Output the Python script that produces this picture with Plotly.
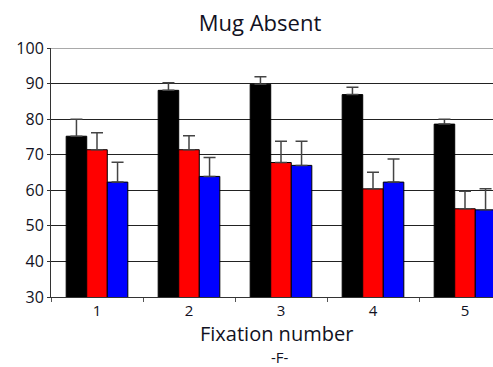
import plotly.graph_objects as go

# Fixation numbers on the x axis
fixations = ["1", "2", "3", "4", "5"]

# Mean percentage per fixation for each condition, with upper error
black_vals = [75.2, 88.1, 89.8, 86.9, 78.6]
black_err = [4.8, 2.1, 2.1, 2.1, 1.4]
red_vals = [71.4, 71.4, 67.8, 60.4, 54.8]
red_err = [4.8, 3.9, 6.0, 4.7, 4.9]
blue_vals = [62.3, 63.9, 67.0, 62.3, 54.5]
blue_err = [5.6, 5.3, 6.8, 6.5, 5.9]

y_ticks = [30, 40, 50, 60, 70, 80, 90, 100]

FONT = "Open Sans"
TEXT = "#111122"

fig = go.Figure()
for vals, errs, color in [
    (black_vals, black_err, "#000000"),
    (red_vals, red_err, "#ff0000"),
    (blue_vals, blue_err, "#0000ff"),
]:
    fig.add_trace(go.Bar(
        x=fixations, y=vals,
        marker=dict(color=color, line=dict(color="#000000", width=1)),
        error_y=dict(type="data", array=errs, symmetric=False,
                     arrayminus=[0] * len(errs),
                     color="#444444", thickness=1.5, width=6),
        showlegend=False,
    ))

W, H = 493, 367
L, R, T, B = 51, 0, 48, 70
plot_w = W - L - R
plot_h = H - T - B
cat_px = 92.0

fig.update_layout(
    width=W, height=H,
    margin=dict(l=L, r=R, t=T, b=B),
    paper_bgcolor="white", plot_bgcolor="white",
    barmode="group", bargap=0.33, bargroupgap=0,
    font=dict(family=FONT, color=TEXT),
    title=dict(text="Mug Absent", x=260 / W, xanchor="center",
               y=1 - 23 / H, yanchor="middle",
               font=dict(family=FONT, size=22, color=TEXT)),
)
fig.update_xaxes(
    type="category", range=[-0.5, -0.5 + plot_w / cat_px],
    showgrid=False, showline=True, linecolor="#333333", linewidth=1,
    ticks="outside", tickson="boundaries", ticklen=4, tickcolor="#555555",
    tickfont=dict(family=FONT, size=15, color=TEXT),
)
fig.update_yaxes(
    range=[30, 100], tickvals=y_ticks,
    showgrid=True, gridcolor="#222222", gridwidth=1, zeroline=False,
    showline=True, linecolor="#333333", linewidth=1,
    ticks="outside", ticklen=3, tickcolor="#333333",
    tickfont=dict(family=FONT, size=16, color=TEXT),
)
# Top frame line at 100
fig.add_shape(type="line", xref="paper", yref="y", x0=0, x1=1, y0=100, y1=100,
              line=dict(color="#555555", width=1))
fig.add_annotation(text="Fixation number", xref="paper", yref="paper",
                   x=(276 - L) / plot_w, y=-(333 - (H - B)) / plot_h,
                   xanchor="center", yanchor="middle", showarrow=False,
                   font=dict(family=FONT, size=20, color=TEXT))
fig.add_annotation(text="-F-", xref="paper", yref="paper",
                   x=(280 - L) / plot_w, y=-(357 - (H - B)) / plot_h,
                   xanchor="center", yanchor="middle", showarrow=False,
                   font=dict(family=FONT, size=15, color=TEXT))

fig.write_html("out.html")
